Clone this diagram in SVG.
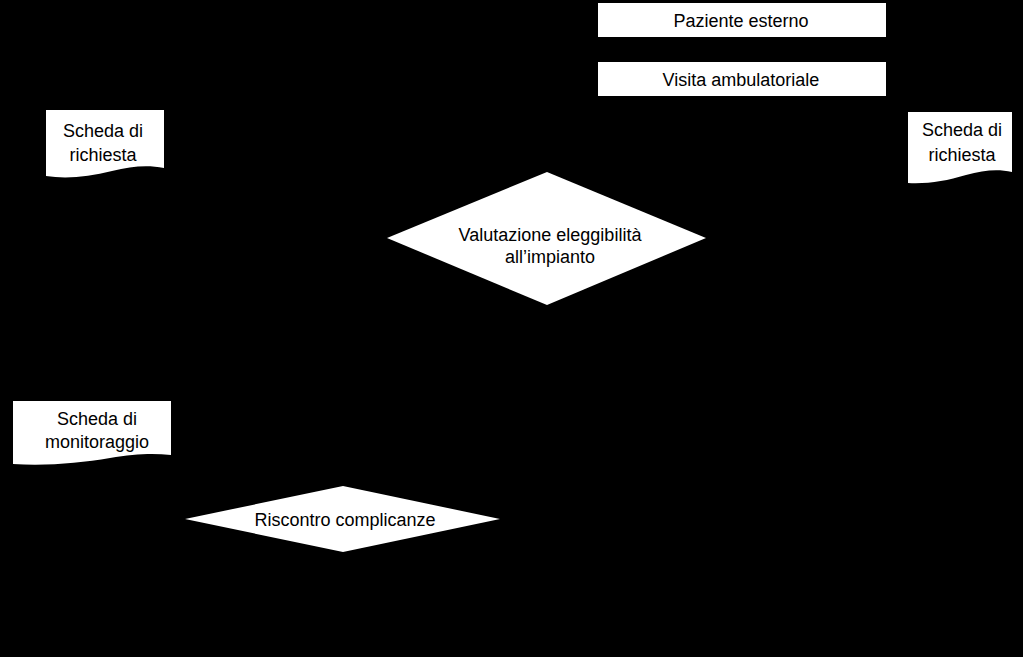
<svg xmlns="http://www.w3.org/2000/svg" width="1023" height="657" viewBox="0 0 1023 657">
<style>
.s{fill:#ffffff;stroke:none}
.t{font-family:"Liberation Sans",Arial,sans-serif;font-size:18px;fill:#000000;text-anchor:middle}
</style>
<rect x="0" y="0" width="1023" height="657" fill="#000000"/>
<g id="connectors"></g>
<g id="paziente-esterno">
<rect class="s" x="598" y="3" width="288" height="34"/>
<text class="t" x="741" y="27">Paziente esterno</text>
</g>
<g id="visita-ambulatoriale">
<rect class="s" x="598" y="62" width="288" height="34"/>
<text class="t" x="741" y="86">Visita ambulatoriale</text>
</g>
<g id="scheda-richiesta-1">
<path class="s" d="M46,110 H164 V168 C148,165 132,166 112,171 C88,177 66,179 46,176 Z"/>
<text class="t" x="103" y="137">Scheda di</text>
<text class="t" x="103" y="161">richiesta</text>
</g>
<g id="scheda-richiesta-2">
<path class="s" d="M908,112 H1012 V172 C998,169 984,170 966,175 C946,181 928,184 908,183 Z"/>
<text class="t" x="962" y="136">Scheda di</text>
<text class="t" x="962" y="161">richiesta</text>
</g>
<g id="valutazione">
<polygon class="s" points="547,172 706,238 547,305 387,238"/>
<text class="t" x="550" y="241">Valutazione eleggibilità</text>
<text class="t" x="550" y="263">all’impianto</text>
</g>
<g id="scheda-monitoraggio">
<path class="s" d="M13,401 H171 V455 C152,453 134,454 110,458 C80,463 48,466 13,464 Z"/>
<text class="t" x="97" y="425">Scheda di</text>
<text class="t" x="97" y="448">monitoraggio</text>
</g>
<g id="riscontro">
<polygon class="s" points="343,486 500,519 343,552 185,519"/>
<text class="t" x="345" y="526">Riscontro complicanze</text>
</g>
</svg>
